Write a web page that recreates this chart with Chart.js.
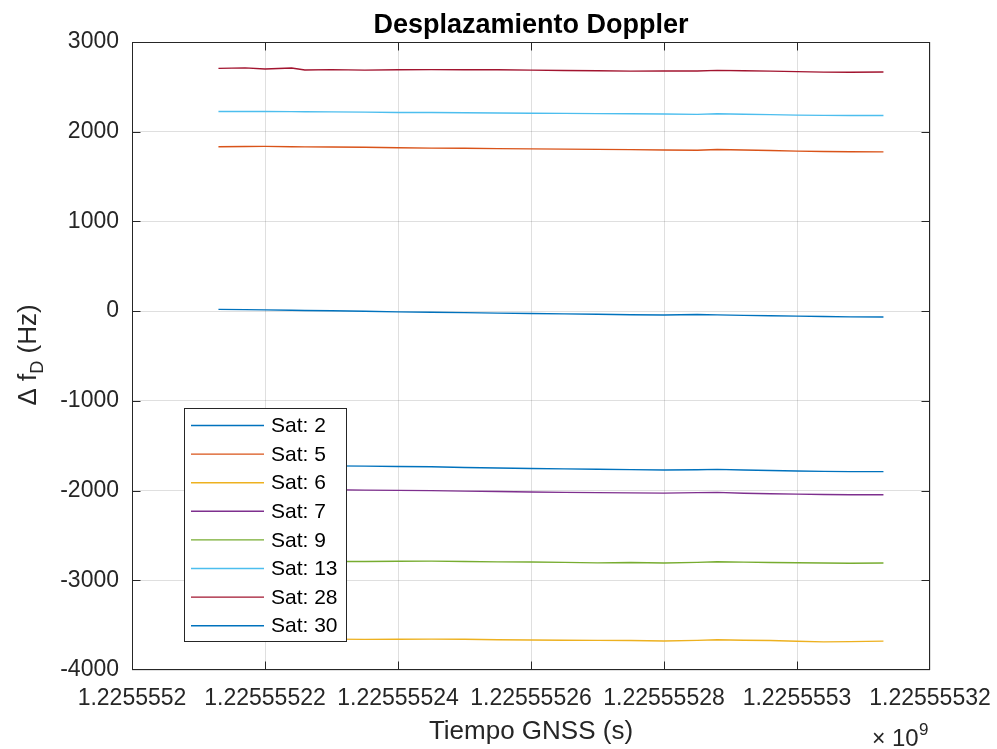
<!DOCTYPE html>
<html><head><meta charset="utf-8">
<script src="https://cdn.jsdelivr.net/npm/chart.js@4.4.1/dist/chart.umd.min.js"></script>
<style>html,body{margin:0;padding:0;background:#fff;} #wrap{width:997px;height:749px;}</style>
</head><body><div id="wrap"><canvas id="c" width="997" height="749"></canvas></div>
<script>
const times = [1225555213, 1225555217, 1225555220, 1225555224, 1225555226, 1225555230, 1225555235, 1225555240, 1225555245, 1225555250, 1225555255, 1225555260, 1225555265, 1225555270, 1225555275, 1225555280, 1225555285, 1225555288, 1225555292, 1225555296, 1225555300, 1225555304, 1225555308, 1225555313];
const satLabels = ['Sat: 2', 'Sat: 5', 'Sat: 6', 'Sat: 7', 'Sat: 9', 'Sat: 13', 'Sat: 28', 'Sat: 30'];
const sat2  = [20, 17, 14, 10, 8, 4, -2, -8, -12, -16, -22, -27, -31, -35, -40, -43, -38, -42, -47, -51, -55, -60, -64, -66];
const sat5  = [1832, 1836, 1837, 1833, 1831, 1829, 1826, 1821, 1817, 1815, 1812, 1809, 1806, 1803, 1800, 1797, 1794, 1801, 1796, 1790, 1784, 1780, 1776, 1775];
const sat6  = [-3650, -3651, -3652, -3653, -3654, -3656, -3659, -3658, -3656, -3658, -3662, -3665, -3668, -3670, -3672, -3677, -3670, -3662, -3668, -3672, -3680, -3686, -3684, -3678];
const sat7  = [-1978, -1981, -1983, -1986, -1988, -1991, -1995, -1998, -2001, -2006, -2011, -2016, -2020, -2023, -2026, -2029, -2023, -2020, -2030, -2036, -2040, -2043, -2046, -2046];
const sat9  = [-2785, -2786, -2787, -2788, -2789, -2790, -2790, -2788, -2786, -2790, -2795, -2797, -2800, -2806, -2802, -2808, -2800, -2793, -2798, -2802, -2805, -2808, -2810, -2808];
const sat13 = [2226, 2226, 2225, 2224, 2223, 2221, 2218, 2215, 2214, 2212, 2208, 2206, 2204, 2202, 2200, 2197, 2193, 2200, 2195, 2190, 2185, 2182, 2180, 2181];
const sat28 = [2706, 2712, 2699, 2710, 2688, 2692, 2686, 2691, 2692, 2690, 2690, 2686, 2682, 2680, 2675, 2676, 2676, 2684, 2680, 2675, 2670, 2664, 2662, 2665];
const sat30 = [-1712, -1715, -1717, -1720, -1722, -1725, -1728, -1731, -1735, -1742, -1748, -1754, -1758, -1762, -1766, -1771, -1768, -1764, -1770, -1776, -1782, -1786, -1789, -1789];
const seriesColors = ['#0072BD', '#D95319', '#EDB120', '#7E2F8E', '#77AC30', '#4DBEEE', '#A2142F', '#0072BD'];
const xTickLabels = ['1.2255552', '1.22555522', '1.22555524', '1.22555526', '1.22555528', '1.2255553', '1.22555532'];
const yTickLabels = ['-4000', '-3000', '-2000', '-1000', '0', '1000', '2000', '3000'];
const chartTitle = 'Desplazamiento Doppler';

const FONT = "'Liberation Sans', Arial, Helvetica, sans-serif";
const allSeries = [sat2, sat5, sat6, sat7, sat9, sat13, sat28, sat30];
const datasets = allSeries.map((vals, i) => ({
  label: satLabels[i],
  data: vals.map((v, j) => ({x: times[j], y: v})),
  borderColor: seriesColors[i],
  backgroundColor: seriesColors[i],
  borderWidth: 1.4,
  pointRadius: 0,
  tension: 0,
  fill: false
}));

const decor = {
  id: 'decor',
  afterDatasetsDraw(chart) {
    const {ctx, chartArea: a, scales: {x, y}} = chart;
    ctx.save();
    // box
    ctx.strokeStyle = '#262626';
    ctx.lineWidth = 1;
    const l = Math.round(a.left) + 0.5, r = Math.round(a.right) - 0.5, t = Math.round(a.top) + 0.5, b = Math.round(a.bottom) - 0.5;
    ctx.strokeRect(l, t, r - l, b - t);
    // inward ticks
    const L = 8;
    const clamp = (v, lo, hi) => Math.min(hi, Math.max(lo, v));
    ctx.beginPath();
    x.ticks.forEach(tk => {
      const px = clamp(Math.round(x.getPixelForValue(tk.value)) + 0.5, l, r);
      ctx.moveTo(px, b); ctx.lineTo(px, b - L);
      ctx.moveTo(px, t); ctx.lineTo(px, t + L);
    });
    y.ticks.forEach(tk => {
      const py = clamp(Math.round(y.getPixelForValue(tk.value)) + 0.5, t, b);
      ctx.moveTo(l, py); ctx.lineTo(l + L, py);
      ctx.moveTo(r, py); ctx.lineTo(r - L, py);
    });
    ctx.stroke();

    // title, centred over the plot area
    ctx.fillStyle = '#000000';
    ctx.font = 'bold 27px ' + FONT;
    ctx.textAlign = 'center';
    ctx.textBaseline = 'alphabetic';
    ctx.fillText(chartTitle, (a.left + a.right) / 2, 33);

    // legend
    const lx = 184.5, ly = 408.5, lw = 162, lh = 233;
    ctx.fillStyle = '#ffffff';
    ctx.fillRect(lx, ly, lw, lh);
    ctx.strokeStyle = '#262626';
    ctx.lineWidth = 1;
    ctx.strokeRect(lx, ly, lw, lh);
    ctx.font = '21px ' + FONT;
    ctx.textBaseline = 'middle';
    ctx.textAlign = 'left';
    chart.data.datasets.forEach((ds, i) => {
      const ry = 425.5 + i * 28.6;
      ctx.strokeStyle = ds.borderColor;
      ctx.lineWidth = 1.4;
      ctx.beginPath(); ctx.moveTo(191, ry); ctx.lineTo(264, ry); ctx.stroke();
      ctx.fillStyle = '#000000';
      ctx.fillText(ds.label, 271, ry + 1);
    });

    // exponent label
    ctx.fillStyle = '#262626';
    ctx.textBaseline = 'alphabetic';
    ctx.font = '23px ' + FONT;
    ctx.fillText('\u00d7', 872, 746);
    ctx.font = '24px ' + FONT;
    ctx.fillText('10', 892, 746);
    ctx.font = '17px ' + FONT;
    ctx.fillText('9', 919, 735);

    // y axis title
    ctx.translate(36, 355);
    ctx.rotate(-Math.PI / 2);
    const main = '26px ' + FONT, sub = '18px ' + FONT;
    ctx.font = main; const w1 = ctx.measureText('\u0394 f').width;
    ctx.font = sub; const w2 = ctx.measureText('D').width;
    ctx.font = main; const w3 = ctx.measureText(' (Hz)').width;
    let sx = -(w1 + w2 + w3) / 2;
    ctx.font = main; ctx.fillText('\u0394 f', sx, 0); sx += w1;
    ctx.font = sub; ctx.fillText('D', sx, 7); sx += w2;
    ctx.font = main; ctx.fillText(' (Hz)', sx, 0);
    ctx.restore();
  }
};

new Chart(document.getElementById('c'), {
  type: 'line',
  data: {datasets},
  options: {
    responsive: false,
    devicePixelRatio: 1,
    animation: false,
    layout: {padding: {left: 0, right: 67, top: 42, bottom: 0}},
    plugins: {
      legend: {display: false},
      tooltip: {enabled: false},
      title: {display: false}
    },
    scales: {
      x: {
        type: 'linear',
        min: 1225555200, max: 1225555320,
        afterFit: s => { s.height = 79; s.paddingLeft = 0; s.paddingRight = 0; },
        ticks: {
          stepSize: 20,
          autoSkip: false,
          maxRotation: 0,
          padding: 15,
          color: '#262626',
          font: {family: FONT, size: 23},
          callback: (v, i) => xTickLabels[i]
        },
        grid: {color: 'rgba(38,38,38,0.15)', drawTicks: false, lineWidth: 1},
        border: {display: false},
        title: {display: true, text: 'Tiempo GNSS (s)', color: '#262626', font: {family: FONT, size: 26}, padding: {top: 0, bottom: 2}}
      },
      y: {
        type: 'linear',
        min: -4000, max: 3000,
        afterFit: s => { s.width = 132; s.paddingTop = 0; s.paddingBottom = 0; },
        ticks: {
          stepSize: 1000,
          padding: 13,
          color: '#262626',
          font: {family: FONT, size: 23},
          callback: (v, i) => yTickLabels[i]
        },
        grid: {color: 'rgba(38,38,38,0.15)', drawTicks: false, lineWidth: 1},
        border: {display: false}
      }
    }
  },
  plugins: [decor]
});
</script>
</body></html>
